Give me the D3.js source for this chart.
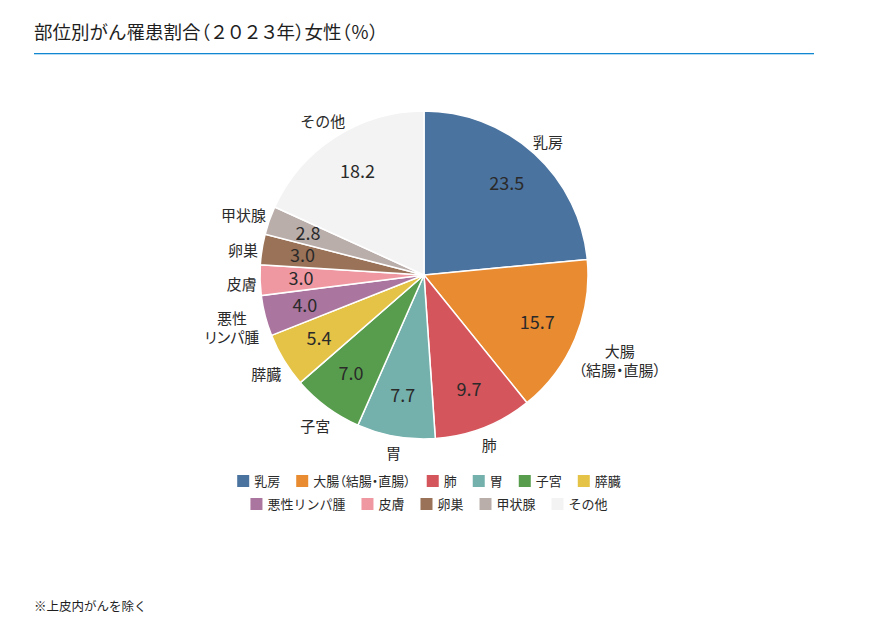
<!DOCTYPE html>
<html>
<head>
<meta charset="utf-8">
<script src="https://cdn.jsdelivr.net/npm/d3@7"></script>
<style>
  body { margin: 0; background: #fff; }
  svg { font-family: "Noto Sans CJK JP", "Noto Sans", sans-serif; }
  .palt { font-feature-settings: "palt"; }
</style>
</head>
<body>
<svg id="chart" width="880" height="642"></svg>
<script>
// 部位別がん罹患割合（2023年）女性
const categories = ["乳房", "大腸（結腸・直腸）", "肺", "胃", "子宮", "膵臓", "悪性リンパ腫", "皮膚", "卵巣", "甲状腺", "その他"];
const pieLabels = [["乳房"], ["大腸", "（結腸・直腸）"], ["肺"], ["胃"], ["子宮"], ["膵臓"], ["悪性", "リンパ腫"], ["皮膚"], ["卵巣"], ["甲状腺"], ["その他"]];
const values = [23.5, 15.7, 9.7, 7.7, 7.0, 5.4, 4.0, 3.0, 3.0, 2.8, 18.2];
const colors = ["#4b73a0", "#e98c31", "#d4555b", "#74b1ad", "#589d4d", "#e4c347", "#aa759e", "#f098a2", "#997258", "#baaeab", "#f3f3f3"];

const svg = d3.select("#chart");
const cx = 424, cy = 275, radius = 164;

// title + rule (narrow parens, wide digits as in the source)
const titleParts = [
  ["部位別がん罹患割合", null], ["（", "palt"], ["２０２３", "digits"], ["年", null], ["）", "palt"],
  ["女性", null], ["（", "palt"], ["％", null], ["）", "palt"],
];
const title = svg.append("text")
  .attr("x", 34).attr("y", 39)
  .attr("fill", "#1e1e1e")
  .style("font-size", "18.5px");
titleParts.forEach(([s, cls]) => {
  const ts = title.append("tspan").text(s);
  if (cls === "palt") ts.attr("class", "palt");
  if (cls === "digits") ts.style("letter-spacing", "-1.8px");
});
svg.append("rect")
  .attr("x", 34).attr("y", 53)
  .attr("width", 780).attr("height", 1.3)
  .attr("fill", "#1187d2");

const pie = d3.pie().sort(null).value((d) => d.value);
const arcs = pie(categories.map((c, i) => ({ name: c, value: values[i], label: pieLabels[i], color: colors[i] })));

const arc = d3.arc().innerRadius(0).outerRadius(radius);
const valueArc = d3.arc().innerRadius(123).outerRadius(123);

const g = svg.append("g").attr("transform", `translate(${cx}, ${cy})`);

g.selectAll("path")
  .data(arcs)
  .join("path")
  .attr("d", arc)
  .attr("fill", (d) => d.data.color)
  .attr("stroke", "#fff")
  .attr("stroke-width", 1.5);

g.selectAll(".value")
  .data(arcs)
  .join("text")
  .attr("class", "value")
  .attr("transform", (d) => `translate(${valueArc.centroid(d)})`)
  .attr("text-anchor", "middle")
  .attr("dy", "0.35em")
  .attr("fill", "#2a2a2a")
  .style("font-size", "18px")
  .text((d) => d.data.value.toFixed(1));

// outer labels: box centre pushed out past the rim by its own extent
const lineH = 19;
const outer = g.selectAll(".outer")
  .data(arcs)
  .join("text")
  .attr("class", (d) => (d.data.label.length > 1 ? "outer palt" : "outer"))
  .attr("text-anchor", "middle")
  .attr("fill", "#2a2a2a")
  .style("font-size", "15px");

outer.each(function (d) {
  const t = d3.select(this);
  const n = d.data.label.length;
  d.data.label.forEach((line, i) => {
    t.append("tspan")
      .attr("x", 0)
      .attr("y", (i - (n - 1) / 2) * lineH)
      .attr("dy", "0.35em")
      .text(line);
  });
  const box = this.getBBox();
  const a = (d.startAngle + d.endAngle) / 2;
  const sx = Math.sin(a), sy = -Math.cos(a);
  const ext = Math.abs(sx) * box.width / 2 + Math.abs(sy) * (n * lineH) / 2;
  const r = radius + 3 + ext;
  t.attr("transform", `translate(${sx * r}, ${sy * r + 4})`);
});

// legend, two centred rows
const rows = [categories.slice(0, 6), categories.slice(6)];
const legendCenter = 429;
rows.forEach((row, ri) => {
  const lg = svg.append("g");
  let x = 0;
  row.forEach((name) => {
    const idx = categories.indexOf(name);
    const item = lg.append("g").attr("transform", `translate(${x}, 0)`);
    item.append("rect")
      .attr("width", 12).attr("height", 12)
      .attr("y", -6)
      .attr("fill", colors[idx]);
    const txt = item.append("text")
      .attr("class", name.includes("（") ? "palt" : null)
      .attr("x", 17)
      .attr("dy", "0.35em")
      .attr("fill", "#2a2a2a")
      .style("font-size", "13px")
      .text(name);
    x += 17 + txt.node().getComputedTextLength() + 16;
  });
  const w = x - 16;
  lg.attr("transform", `translate(${legendCenter - w / 2}, ${481 + ri * 23})`);
});

svg.append("text")
  .attr("x", 34).attr("y", 611)
  .attr("fill", "#1e1e1e")
  .style("font-size", "12.5px")
  .text("※上皮内がんを除く");
</script>
</body>
</html>
